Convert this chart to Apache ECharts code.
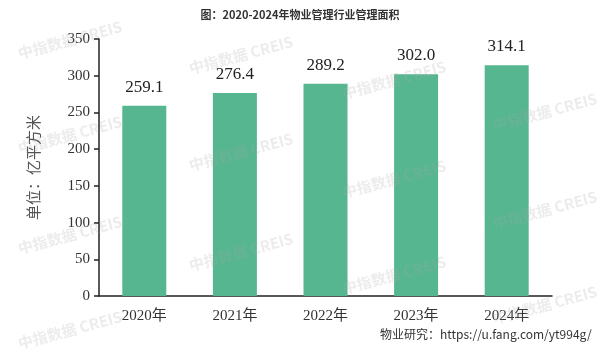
<!DOCTYPE html>
<html><head><meta charset="utf-8">
<script src="https://cdn.jsdelivr.net/npm/echarts@6/dist/echarts.min.js"></script>
<style>html,body{margin:0;padding:0;background:#fff}#c{width:600px;height:362px}</style>
</head><body><div id="c"></div>
<script>
var categories = ['2020年','2021年','2022年','2023年','2024年'];
var values = [259.1, 276.4, 289.2, 302.0, 314.1];
var yTicks = [0,50,100,150,200,250,300,350];
var titleText = '图：2020-2024年物业管理行业管理面积';
var yName = '单位：亿平方米';
var footer = '物业研究：https://u.fang.com/yt994g/';
var wmText = '中指数据 CREIS';
var wmPos = [[70,40],[70,135],[70,235],[70,330],[241,55],[241,152],[241,252],[394,80],[394,179],[394,275],[545,112],[545,210],[545,305]];

var chart = echarts.init(document.getElementById('c'));
var serif = '"Liberation Serif","Times New Roman","Noto Sans CJK SC",serif';
var graphics = wmPos.map(function(p){
  return {type:'text', x:p[0], y:p[1], rotation: 15*Math.PI/180, z:100, silent:true,
    style:{text:wmText, font:'bold 15px "Noto Sans CJK SC",sans-serif', fill:'rgba(170,170,170,0.22)', align:'center', verticalAlign:'middle'}};
});
graphics.push({type:'text', left:380, top:328, style:{text:footer, font:'12px "Noto Sans CJK SC",sans-serif', fill:'#333'}});
chart.setOption({
  animation:false,
  title:{text:titleText, left:'center', top:4, textStyle:{fontSize:11, fontWeight:'bold', color:'#333', fontFamily:'"Noto Sans CJK SC",sans-serif'}},
  grid:{left:99, right:48, top:39, bottom:66},
  xAxis:{type:'category', data:categories,
    axisLine:{lineStyle:{color:'#222', width:1.5}},
    axisTick:{inside:true, length:5, lineStyle:{color:'#222', width:1.5}},
    axisLabel:{fontSize:15, color:'#333', fontFamily:serif, margin:13}},
  yAxis:{type:'value', min:0, max:350, interval:50,
    name:yName, nameLocation:'middle', nameGap:56, nameRotate:90,
    nameTextStyle:{fontSize:15, color:'#555', fontFamily:serif},
    splitLine:{show:false},
    axisLine:{show:true, lineStyle:{color:'#222', width:1.5}},
    axisTick:{show:true, length:5, lineStyle:{color:'#222', width:1.5}},
    axisLabel:{fontSize:15, color:'#333', fontFamily:serif, margin:9}},
  series:[{type:'bar', data:values, barWidth:44, itemStyle:{color:'#55b690'},
    label:{show:true, position:'top', distance:10, fontSize:17, color:'#222', fontFamily:serif,
      formatter:function(p){return p.value.toFixed(1);}}}],
  graphic:graphics
});
</script></body></html>
